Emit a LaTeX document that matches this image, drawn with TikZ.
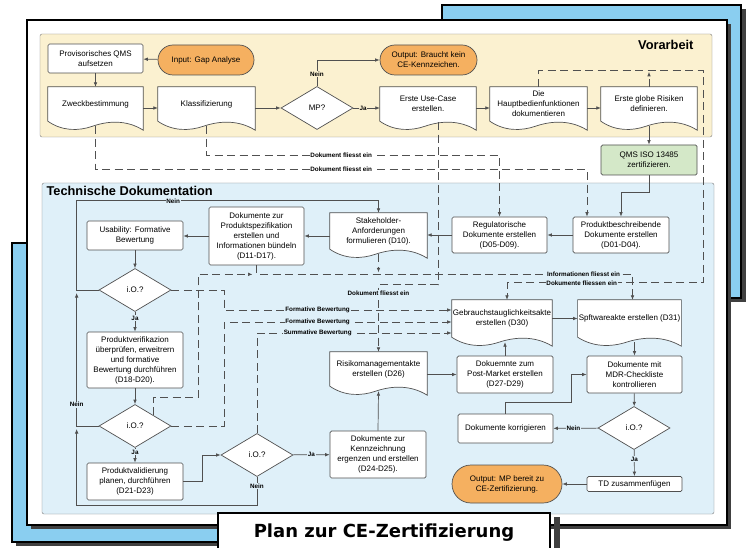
\documentclass[tikz,border=0pt]{standalone}
\usepackage{fontspec}
\setmainfont{Liberation Sans}
\newfontfamily\titlefont{DejaVu Sans}
\usetikzlibrary{shapes.geometric,arrows.meta,calc}
\definecolor{cdblue}{RGB}{138,206,240}
\definecolor{cdyellow}{RGB}{251,241,208}
\definecolor{cdpanel}{RGB}{223,240,249}
\definecolor{cdorange}{RGB}{245,176,96}
\definecolor{cdgreen}{RGB}{212,232,200}
\definecolor{cdline}{RGB}{80,80,80}
\definecolor{cdframe}{RGB}{125,125,125}
\newcommand{\nodefont}{\fontsize{8}{10}\selectfont}
% outline of a document shape with wavy bottom
\newcommand{\docwave}[1]{%
  \def\wv{.. controls ($(#1.south west)!.15!(#1.south east)+(0,10)$) and ($(#1.south west)!.32!(#1.south east)+(0,10)$) .. ($(#1.south west)!.47!(#1.south east)+(0,5)$) .. controls ($(#1.south west)!.62!(#1.south east)$) and ($(#1.south west)!.82!(#1.south east)+(0,-2)$) .. ($(#1.south east)+(0,9)$)}%
  \fill[white] (#1.south west) \wv -- (#1.south east) -- cycle;
  \draw[cdline,line width=.7pt] (#1.south east) -- (#1.north east) -- (#1.north west) -- (#1.south west) \wv -- cycle;}

\begin{document}
\begin{tikzpicture}[x=1pt,y=-1pt,>={Latex[length=4.5pt,width=3.6pt]},
  procbox/.style={draw=cdline,line width=.7pt,fill=white,rounded corners=1.5pt,align=center,inner sep=1pt,font=\nodefont},
  termbox/.style={procbox,fill=cdorange},
  docnode/.style={fill=white,align=center,inner sep=1pt,font=\nodefont},
  decision/.style={diamond,draw=cdline,line width=.7pt,fill=white,minimum width=72pt,minimum height=43pt,inner sep=0pt,font=\nodefont},
  lbl/.style={font=\fontsize{6.3}{7}\selectfont\bfseries,inner sep=.8pt,fill=cdpanel},
  flow/.style={draw=cdline,line width=.7pt,->},
  dflow/.style={flow,dash pattern=on 8pt off 4.5pt}]
  \useasboundingbox (0,0) rectangle (747,548);
  \clip (0,0) rectangle (747,548);

  % cards behind
  \fill[black!75] (446,9) rectangle (746,302);
  \draw[fill=cdblue,line width=1.2pt] (442,5) rectangle (741,298);
  \fill[black!75] (16,247) rectangle (420,546);
  \draw[fill=cdblue,line width=1.2pt] (12,243) rectangle (416,542);
  \fill[black!75] (31,24) rectangle (731,529);
  \draw[fill=white,line width=1.2pt] (27,20) rectangle (727,525);

  % panels
  \draw[cdframe,fill=cdyellow,rounded corners=2pt] (40,34) rectangle (712,137);
  \draw[cdframe,fill=cdpanel,rounded corners=2pt] (42,183) rectangle (714,514);
  \node[font=\fontsize{12.8}{14}\selectfont\bfseries,anchor=east] (vorarb) at (697,45) {Vorarbeit};
  \node[font=\fontsize{12.8}{14}\selectfont\bfseries,anchor=west] (techdok) at (43,191) {Technische Dokumentation};

  % Vorarbeit
  \node[procbox,minimum width=95pt,minimum height=29pt] (qmsprov) at (95.5,58.5) {Provisorisches QMS\\aufsetzen};
  \node[termbox,minimum width=96pt,minimum height=30pt,rounded corners=15pt] (gap) at (206,60) {Input: Gap Analyse};
  \node[docnode,minimum width=95pt,minimum height=34pt] (zweck) at (95.5,104) {Zweckbestimmung};
  \node[docnode,minimum width=97pt,minimum height=34pt] (klass) at (206.5,104) {Klassifizierung};
  \node[decision] (mp) at (317,108) {MP?};
  \node[termbox,minimum width=97pt,minimum height=30pt,rounded corners=15pt] (outkein) at (428.5,60) {Output: Braucht kein\\CE-Kennzeichen.};
  \node[docnode,minimum width=96pt,minimum height=34pt] (usecase) at (428,104) {Erste Use-Case\\erstellen.};
  \node[docnode,minimum width=97pt,minimum height=34pt] (haupt) at (538.5,104) {Die\\Hauptbedienfunktionen\\dokumentieren};
  \node[docnode,minimum width=96pt,minimum height=34pt] (risiken) at (649,104) {Erste globe Risiken\\definieren.};
  \node[procbox,fill=cdgreen,minimum width=96pt,minimum height=30pt] (iso) at (649,160) {QMS ISO 13485\\zertifizieren.};

  % Technische Dokumentation
  \node[procbox,minimum width=96pt,minimum height=36pt] (produkt) at (621,235) {Produktbeschreibende\\Dokumente erstellen\\(D01-D04).};
  \node[procbox,minimum width=95pt,minimum height=36pt] (regul) at (499.5,235) {Regulatorische\\Dokumente erstellen\\(D05-D09).};
  \node[docnode,minimum width=97pt,minimum height=36pt] (stake) at (378.5,231) {Stakeholder-\\Anforderungen\\formulieren (D10).};
  \node[procbox,minimum width=95pt,minimum height=58pt] (spez) at (256.5,236) {Dokumente zur\\Produktspezifikation\\erstellen und\\Informationen bündeln\\(D11-D17).};
  \node[procbox,minimum width=96pt,minimum height=29pt] (usab) at (135,235.5) {Usability: Formative\\Bewertung};
  \node[decision] (io1) at (135,290) {i.O.?};
  \node[procbox,minimum width=96pt,minimum height=56pt] (verif) at (135,360) {Produktverifikazion\\überprüfen, erweitrern\\und formative\\Bewertung durchführen\\(D18-D20).};
  \node[decision] (io2) at (135,426) {i.O.?};
  \node[procbox,minimum width=96pt,minimum height=37pt] (valid) at (135,481.5) {Produktvalidierung\\planen, durchführen\\(D21-D23)};
  \node[decision] (io3) at (257,455) {i.O.?};
  \node[procbox,minimum width=96pt,minimum height=47pt] (kennz) at (378,454.5) {Dokumente zur\\Kennzeichnung\\ergenzen und erstellen\\(D24-D25).};
  \node[docnode,minimum width=97pt,minimum height=34pt] (risiko) at (378.5,369) {Risikomanagementakte\\erstellen (D26)};
  \node[procbox,minimum width=96pt,minimum height=37pt] (post) at (505,374.5) {Dokuemnte zum\\Post-Market erstellen\\(D27-D29)};
  \node[docnode,minimum width=100pt,minimum height=37pt] (gebr) at (502,318.5) {Gebrauchstauglichkeitsakte\\erstellen (D30)};
  \node[docnode,minimum width=101pt,minimum height=37pt] (soft) at (629.5,318.5) {Spftwareakte erstellen (D31)};
  \node[procbox,minimum width=95pt,minimum height=37pt] (mdr) at (634.5,374.5) {Dokumente mit\\MDR-Checkliste\\kontrollieren};
  \node[decision] (io4) at (634,428) {i.O.?};
  \node[procbox,minimum width=95pt,minimum height=29pt] (korr) at (505.5,428.5) {Dokumente korrigieren};
  \node[procbox,minimum width=95pt,minimum height=15pt] (tdz) at (634.5,484) {TD zusammenfügen};
  \node[termbox,minimum width=110pt,minimum height=38pt,rounded corners=19pt] (outmp) at (507,484) {Output: MP bereit zu\\CE-Zertifizierung.};

  \foreach \n in {zweck,klass,usecase,haupt,risiken,stake,risiko,gebr,soft}
    \docwave{\n};

  % solid connectors, Vorarbeit
  \draw[flow] (gap) -- (qmsprov);
  \draw[flow] (qmsprov) -- (zweck);
  \draw[flow] (zweck.east |- mp.west) -- (klass.west |- mp.west);
  \draw[flow] (klass.east |- mp.west) -- (mp.west);
  \draw[flow] (mp.east) -- node[lbl,fill=cdyellow,pos=.37] {Ja} (mp.east -| usecase.west);
  \draw[flow] (mp.north) |- node[lbl,fill=cdyellow,pos=.23] {Nein} (outkein);
  \draw[flow] (usecase.east |- mp.east) -- (haupt.west |- mp.east);
  \draw[flow] (haupt.east |- mp.east) -- (risiken.west |- mp.east);
  \draw[flow] ($(risiken.south)+(0,5)$) -- (iso);
  \draw[flow] (iso.south) -- ++(0,17) -| (produkt.north);

  % solid connectors, Technische Dokumentation
  \draw[flow] (produkt) -- (regul);
  \draw[flow] (regul.west) -- (regul.west -| stake.east);
  \draw[flow] (spez.east -| stake.west) -- (spez.east);
  \draw[flow] (spez.west) -- (spez.west -| usab.east);
  \draw[flow] (usab) -- (io1);
  \draw[flow] (io1) -- node[lbl,pos=.32] {Ja} (verif);
  \draw[flow] (verif) -- (io2);
  \draw[flow] (io2) -- node[lbl,pos=.3] {Ja} (valid);
  \draw[flow] (valid.east) -- ++(19,0) |- (io3.west);
  \draw[flow] (io3) -- node[lbl,pos=.5] {Ja} (kennz);
  \draw[flow] (kennz.north) -- ($(risiko.south)+(0,5)$);
  \draw[flow] (risiko.east |- post.west) -- (post.west);
  \draw[flow] (post.north) -- ($(post.north |- gebr.south)+(0,5)$);
  \draw[flow] (gebr) -- (soft);
  \draw[flow] ($(mdr.north |- soft.south)+(0,5)$) -- (mdr.north);
  \draw[flow] (mdr) -- (io4);
  \draw[flow] (io4) -- node[lbl,pos=.55] {Nein} (korr);
  \draw[flow] (io4) -- node[lbl,pos=.35] {Ja} (tdz);
  \draw[flow] (tdz) -- (outmp);
  \draw[flow] (korr.north) -- ++(0,-11) -| ($(mdr.west)+(-15,0)$) -- (mdr.west);
  \draw[flow] (io1.west) -- ++(-22,0) |- node[lbl,pos=.66] {Nein} ($(stake.north)+(0,-12)$) -- (stake.north);
  \draw[flow] (io2.west) -| node[lbl,pos=.58] {Nein} ($(io1.west)+(-22,3)$);
  \draw[flow] (io3.south) -- node[lbl,pos=.33] {Nein} ++(0,28) -| ($(io2.west)+(-22,3)$);

  % dashed connectors
  \draw[dflow] ($(zweck.south)+(0,5)$) |- node[lbl,fill=white,pos=.75] {Dokument fliesst ein} ($(produkt.north)+(-34,-47)$) -- ($(produkt.north)+(-34,0)$);
  \draw[dflow] ($(klass.south)+(0,5)$) |- node[lbl,fill=white,pos=.73] {Dokument fliesst ein} ($(regul.north)+(0,-61)$) -- (regul.north);
  \draw[dflow] ($(usecase.south)+(10,1)$) |- ($(risiko.north)+(0,-67)$) -- node[lbl,pos=.12] {Dokument fliesst ein} (risiko.north);
  \draw[dflow] (haupt.north) -- ++(0,-16) -| ($(soft.north)+(74,-17)$) -| node[lbl,pos=.31] {Dokumente fliessen ein} ($(gebr.north)+(5,0)$);
  \draw[dflow] (risiken.north) -- ++(0,-15);
  \draw[dflow] (spez.south) -- ++(0,9) -| node[lbl,pos=.435] {Informationen fliesst ein} ($(soft.north)+(3,0)$);
  \draw[dflow] ($(stake.south)+(0,5)$) -- ($(stake.south |- spez.south)+(0,7)$);
  \draw[dflow] (io2.north east) -- ++(0,-18) -| ($(spez.south)+(-58,9)$) -- ($(spez.south)+(-4,9)$);
  \draw[dflow] (io1.east) -- ++(53,0) |- node[lbl,pos=.705] {Formative Bewertung} ($(gebr.west)+(0,-8.5)$);
  \draw[dflow] (io2.east) -- ++(53,0) |- node[lbl,pos=.705] {Formative Bewertung} ($(gebr.west)+(0,3.5)$);
  \draw[dflow] (io3.north) |- node[lbl,pos=.656] {Summative Bewertung} ($(gebr.west)+(0,14.5)$);

  % title
  \fill[black!75] (554,517) rectangle (560,548);
  \draw[fill=white,line width=1.2pt] (218,513) rectangle (550,560);
  \node[font=\titlefont\bfseries\fontsize{18}{20}\selectfont] (plan) at (384,533) {Plan zur CE-Zertifizierung};
\end{tikzpicture}
\end{document}
